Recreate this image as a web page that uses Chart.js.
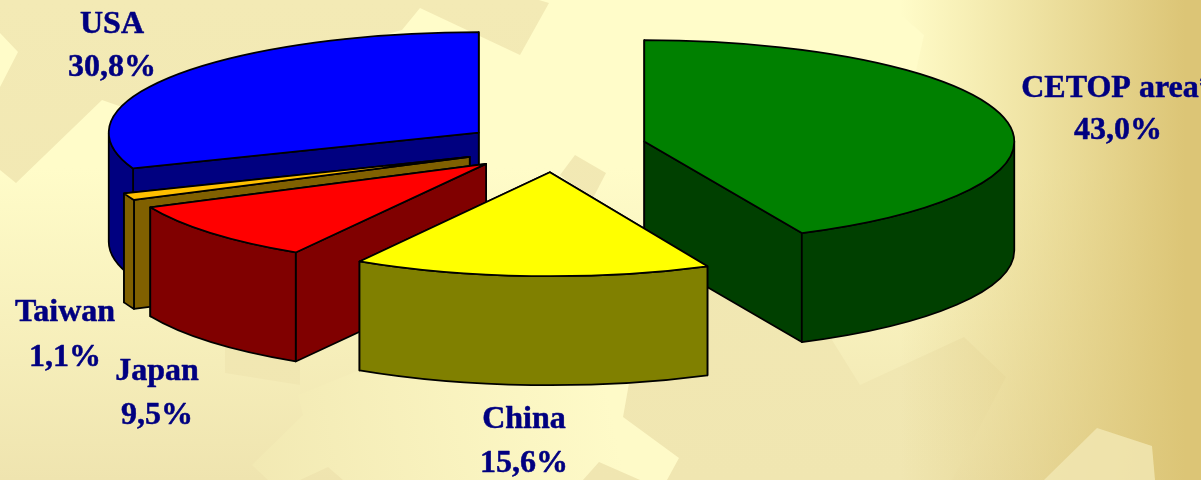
<!DOCTYPE html>
<html>
<head>
<meta charset="utf-8">
<title>Market shares</title>
<style>
html, body { margin: 0; padding: 0; background: #FEFBC8; overflow: hidden; }
#wrap { width: 1201px; height: 480px; }
</style>
<script src="https://cdn.jsdelivr.net/npm/chart.js@4"></script>
</head>
<body>
<div id="wrap"><canvas id="pieChart" width="1201" height="480"></canvas></div>
<script>
var categories = ['CETOP area*', 'China', 'Japan', 'Taiwan', 'USA'];
var shares = [43.0, 15.6, 9.5, 1.1, 30.8];
var topColors = ['#008000', '#FFFF00', '#FF0000', '#FFC000', '#0000FF'];
var wallColors = ['#004000', '#808000', '#800000', '#806000', '#000080'];

// pie look
var EXPLODE = 92;
var SQUASH = 0.275;
var SQUASH_TILT = 0.006; // front slices open up a little, like the perspective in the original
var DEPTH = 109;
var FONT = "'Liberation Serif', serif";

// label anchors: centre x, first baseline, second baseline
var LABEL_SPOTS = [[1118, 97, 139], [524, 428, 472], [157, 380, 424], [65, 321, 366], [112, 33, 76]];

// backdrop shapes from the slide template
var DARK_SHAPES = [
    [[0, 0], [539, 0], [549, 3], [520, 55], [420, 8], [402, 30], [122, 107], [102, 100], [16, 183], [0, 170], [0, 87], [18, 52], [0, 33]],
    [[575, 155], [606, 173], [592, 200], [560, 175]],
    [[629, 280], [832, 280], [832, 340], [860, 385], [964, 337], [1006, 377], [952, 480], [583, 480], [599, 462], [640, 480], [667, 480], [679, 458], [623, 417], [629, 383]],
    [[225, 340], [225, 373], [300, 385], [300, 340]]
];
var LIGHT_SHAPE = [[252, 465], [303, 415], [298, 395], [360, 370], [629, 383], [623, 417], [679, 458], [667, 480], [640, 480], [599, 462], [583, 480], [343, 480], [328, 467], [300, 480], [268, 480]];
var CORNER_SHAPE = [[885, 0], [924, 35], [905, 120], [880, 120]];
var SIDE_SHAPE = [[1097, 428], [1152, 446], [1155, 480], [1044, 480]];

function polygon(ctx, pts) {
    ctx.beginPath();
    pts.forEach(function (p, i) {
        if (i === 0) ctx.moveTo(p[0], p[1]);
        else ctx.lineTo(p[0], p[1]);
    });
    ctx.closePath();
}

var backdropPlugin = {
    id: 'backdrop',
    beforeDraw: function (chart) {
        var ctx = chart.ctx, w = chart.width, h = chart.height;
        var g = ctx.createLinearGradient(0, 0, 0, h);
        g.addColorStop(0, '#FFFCC9');
        g.addColorStop(0.35, '#FFFCC9');
        g.addColorStop(1, '#EFE4AF');
        ctx.fillStyle = g;
        ctx.fillRect(0, 0, w, h);

        var dark = ctx.createLinearGradient(0, 0, 0, h);
        dark.addColorStop(0, '#F3EAB5');
        dark.addColorStop(1, '#F0E6B1');
        ctx.fillStyle = dark;
        DARK_SHAPES.forEach(function (s) {
            polygon(ctx, s);
            ctx.fill();
        });

        var light = ctx.createLinearGradient(252, 470, 610, 400);
        light.addColorStop(0, '#F2E9B3');
        light.addColorStop(1, '#FEFAC8');
        ctx.fillStyle = light;
        polygon(ctx, LIGHT_SHAPE);
        ctx.fill();

        var side = ctx.createLinearGradient(900, 0, 1185, 0);
        side.addColorStop(0, 'rgba(220,197,118,0)');
        side.addColorStop(1, 'rgba(220,197,118,1)');
        ctx.fillStyle = side;
        ctx.fillRect(900, 0, w - 900, h);

        ctx.fillStyle = '#FFFCC9';
        polygon(ctx, CORNER_SHAPE);
        ctx.fill();
        ctx.fillStyle = 'rgba(241,230,178,0.85)';
        polygon(ctx, SIDE_SHAPE);
        ctx.fill();
    }
};

function drawSlice(ctx, item) {
    var arc = item.arc, i = item.index;
    var r = arc.outerRadius, ry = r * item.squash;
    var ax = item.x, ay = item.y;

    function rim(t) {
        return [ax + r * Math.cos(t), ay + ry * Math.sin(t)];
    }
    function radialWall(t) {
        var p = rim(t);
        polygon(ctx, [[ax, ay], p, [p[0], p[1] + DEPTH], [ax, ay + DEPTH]]);
        ctx.fill();
        ctx.stroke();
    }

    ctx.lineWidth = 1.75;
    ctx.lineJoin = 'round';
    ctx.strokeStyle = '#000';
    ctx.fillStyle = wallColors[i];

    // the wall further back goes first
    if (rim(arc.startAngle)[1] < rim(arc.endAngle)[1]) {
        radialWall(arc.startAngle);
        radialWall(arc.endAngle);
    } else {
        radialWall(arc.endAngle);
        radialWall(arc.startAngle);
    }

    // outer wall, only the part that faces the viewer
    var lo = Math.max(arc.startAngle, 0), hi = Math.min(arc.endAngle, Math.PI);
    if (hi > lo) {
        ctx.beginPath();
        ctx.ellipse(ax, ay, r, ry, 0, lo, hi);
        ctx.ellipse(ax, ay + DEPTH, r, ry, 0, hi, lo, true);
        ctx.closePath();
        ctx.fill();
        ctx.stroke();
    }

    // top face: the library's own arc, flattened
    ctx.save();
    ctx.translate(ax - arc.x, ay);
    ctx.scale(1, item.squash);
    ctx.translate(0, -arc.y);
    arc.draw(ctx);
    ctx.restore();

    ctx.beginPath();
    ctx.moveTo(ax, ay);
    ctx.ellipse(ax, ay, r, ry, 0, arc.startAngle, arc.endAngle);
    ctx.closePath();
    ctx.stroke();
}

var pie3dPlugin = {
    id: 'pie3d',
    beforeDatasetDraw: function (chart, args) {
        var ctx = chart.ctx;
        var items = args.meta.data.map(function (arc, i) {
            var mid = (arc.startAngle + arc.endAngle) / 2;
            return {
                arc: arc,
                index: i,
                squash: SQUASH + SQUASH_TILT * Math.sin(mid),
                x: arc.x + Math.cos(mid) * EXPLODE,
                y: arc.y + Math.sin(mid) * EXPLODE * SQUASH
            };
        });
        // back slices first
        items.sort(function (a, b) { return a.y - b.y; });
        items.forEach(function (item) { drawSlice(ctx, item); });
        return false;
    },
    afterDatasetsDraw: function (chart) {
        var ctx = chart.ctx;
        ctx.save();
        ctx.font = 'bold 32px ' + FONT;
        ctx.fillStyle = '#000080';
        ctx.strokeStyle = '#000080';
        ctx.lineWidth = 0.5;
        ctx.textAlign = 'center';
        ctx.textBaseline = 'alphabetic';
        categories.forEach(function (name, i) {
            var spot = LABEL_SPOTS[i];
            var value = shares[i].toFixed(1).replace('.', ',') + '%';
            ctx.fillText(name, spot[0], spot[1]);
            ctx.strokeText(name, spot[0], spot[1]);
            ctx.fillText(value, spot[0], spot[2]);
            ctx.strokeText(value, spot[0], spot[2]);
        });
        ctx.restore();
    }
};

new Chart(document.getElementById('pieChart'), {
    type: 'pie',
    data: {
        labels: categories,
        datasets: [{
            data: shares,
            backgroundColor: topColors,
            borderWidth: 0
        }]
    },
    options: {
        responsive: false,
        animation: false,
        events: [],
        radius: 370,
        layout: { padding: { right: 92, bottom: 186 } },
        plugins: {
            legend: { display: false },
            tooltip: { enabled: false }
        }
    },
    plugins: [backdropPlugin, pie3dPlugin]
});
</script>
</body>
</html>
